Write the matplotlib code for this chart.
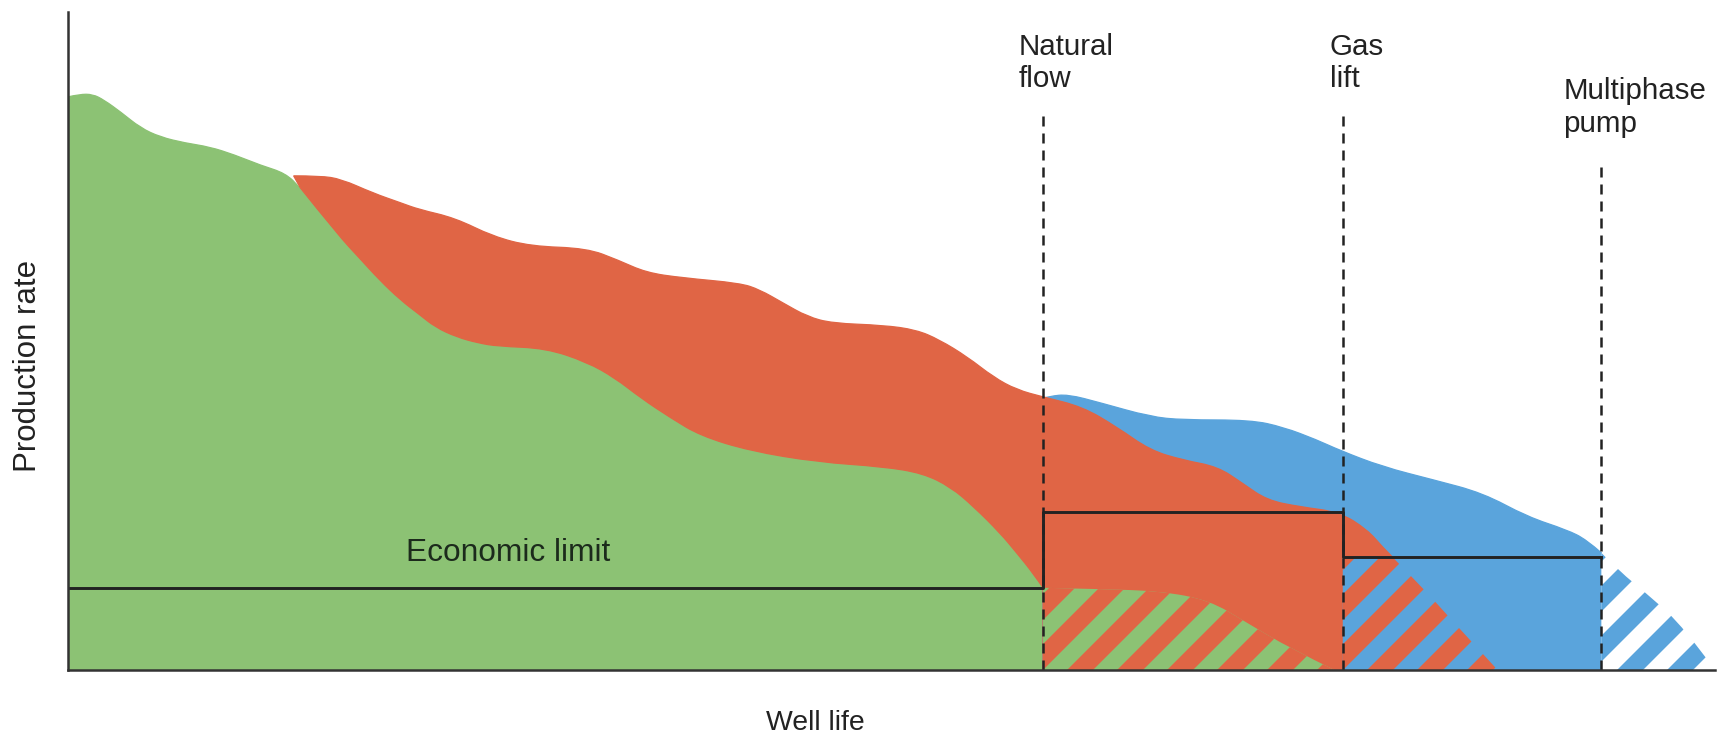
import numpy as np
import matplotlib.pyplot as plt
from matplotlib.path import Path
from matplotlib.patches import PathPatch

# Schematic production profile
# (well life 0-100 along x, production rate 0-100 along y)

# natural flow: green curve down to the economic limit
natural_x = [0.0, 0.7, 1.5, 2.2, 3.2, 4.4, 5.6, 7.1, 8.6, 10.1, 11.7, 13.2, 14.1,
             16.4, 17.7, 18.9, 20.2, 21.3, 22.3, 23.6, 24.9, 26.1, 29.0, 31.5,
             33.2, 34.8, 36.6, 38.4, 41.4, 45.5, 49.5, 51.9, 53.6, 55.0, 56.6,
             57.6, 58.6, 59.2]
natural_y = [87.1, 87.5, 87.5, 86.6, 84.8, 82.4, 81.0, 80.1, 79.5, 78.3, 76.7, 75.5, 73.3,
             66.1, 62.6, 59.3, 56.2, 54.1, 52.1, 50.6, 49.7, 49.2, 48.9, 46.8,
             44.4, 41.3, 38.3, 35.6, 33.3, 31.6, 30.9, 29.9, 27.8, 24.8, 20.8,
             17.8, 14.7, 12.5]
# natural flow below the economic limit
natural_tail_x = [59.2, 62.7, 66.3, 69.3, 71.5, 74.2, 76.9]
natural_tail_y = [12.5, 12.3, 12.0, 10.6, 7.3, 3.3, 0.0]

# gas lift: red curve
gaslift_x = [13.7, 15.3, 16.6, 18.5, 20.2, 21.3, 23.5, 25.8, 28.1, 31.5, 33.4, 35.1,
             37.3, 40.8, 42.0, 43.4, 44.9, 46.4, 49.5, 51.5, 52.9, 54.6, 56.2, 57.6,
             59.2, 61.6, 63.7, 65.7, 67.7, 69.8, 71.3, 72.8, 74.8, 77.2, 78.9, 79.8,
             80.4]
gaslift_y = [75.1, 75.1, 74.6, 72.5, 71.0, 70.0, 68.7, 65.9, 64.4, 64.1, 62.3, 60.4,
             59.6, 58.8, 57.8, 55.8, 53.7, 52.7, 52.4, 51.7, 50.2, 47.6, 44.5, 42.6,
             41.5, 40.0, 36.9, 33.4, 31.9, 30.9, 28.4, 25.8, 24.8, 24.0, 21.3, 18.7,
             17.2]
gaslift_tail_x = [80.4, 82.1, 83.9, 85.7, 86.8]
gaslift_tail_y = [17.2, 12.9, 7.9, 3.0, 0.0]

# multiphase pump: blue curve
pump_x = [59.2, 59.6, 60.7, 62.7, 65.7, 67.7, 71.8, 73.8, 75.8, 77.2, 79.8, 82.9,
          85.9, 88.6, 91.0, 92.2, 93.1]
pump_y = [41.3, 41.6, 41.9, 40.6, 38.5, 38.0, 38.0, 36.9, 35.0, 33.4, 30.9, 28.9,
          26.9, 23.3, 21.3, 19.8, 17.8]
pump_tail_x = [93.1, 94.1, 96.1, 98.1, 100.0]
pump_tail_y = [17.8, 15.2, 11.1, 6.5, 0.0]

# where each lift method takes over, and its economic limit
switch_x = [59.2, 77.4, 93.1]
limit_y = [12.5, 24.0, 17.2]
switch_labels = ["Natural\nflow", "Gas\nlift", "Multiphase\npump"]

green = "#8cc274"
red = "#e06545"
blue = "#5aa4dc"
ink = "#222222"

plt.rcParams["hatch.linewidth"] = 4.4
label_font = ["Liberation Sans", "DejaVu Sans"]

fig = plt.figure(figsize=(5.75, 2.48), dpi=300)
ax = fig.add_axes([68 / 1725, 74 / 744, 1647 / 1725, 658 / 744])


def area(parts, **kw):
    # parts: ("curve"|"line", xs, ys); curves are drawn as smooth quadratic paths
    verts, codes = [], []
    for kind, xs, ys in parts:
        pts = np.column_stack([xs, ys])
        verts.append(pts[0])
        codes.append(Path.LINETO if verts[:-1] else Path.MOVETO)
        if kind == "line":
            for p in pts[1:]:
                verts.append(p)
                codes.append(Path.LINETO)
            continue
        m = len(pts) - 1
        for i in range(1, m):
            end = (pts[i] + pts[i + 1]) / 2 if i < m - 1 else pts[m]
            verts.extend([pts[i], end])
            codes.extend([Path.CURVE3, Path.CURVE3])
        if m == 1:
            verts.append(pts[1])
            codes.append(Path.LINETO)
    verts.append(verts[0])
    codes.append(Path.CLOSEPOLY)
    ax.add_patch(PathPatch(Path(verts, codes), **kw))


nx = np.array(natural_x)
ny = np.array(natural_y)
under_red = nx >= 14.0

# solid areas above the economic limits
area([("curve", natural_x, natural_y), ("line", [switch_x[0], 0], [0, 0])],
     facecolor=green, edgecolor=green, linewidth=0.3)
area([("curve", pump_x, pump_y), ("line", [switch_x[2], switch_x[0]], [0, 0])],
     facecolor=blue, edgecolor=blue, linewidth=0.3)
area([("curve", gaslift_x, gaslift_y),
      ("line", [switch_x[1], switch_x[1], switch_x[0]], [limit_y[2], 0, 0]),
      ("curve", nx[under_red][::-1], ny[under_red][::-1])],
     facecolor=red, edgecolor=red, linewidth=0.3)

# hatched areas: production left below each economic limit
area([("curve", natural_tail_x, natural_tail_y), ("line", [switch_x[0]], [0])],
     facecolor=green, edgecolor=red, hatch="//", linewidth=0)
area([("line", [switch_x[1]], [limit_y[2]]),
      ("curve", gaslift_tail_x, gaslift_tail_y), ("line", [switch_x[1]], [0])],
     facecolor=blue, edgecolor=red, hatch="//", linewidth=0)
area([("curve", pump_tail_x, pump_tail_y), ("line", [switch_x[2]], [0])],
     facecolor="white", edgecolor=blue, hatch="//", linewidth=0)

# economic limit as a step line
ax.step([0] + switch_x, limit_y + [limit_y[-1]], where="post", color=ink, lw=0.7)

# dashed markers for each lift method
dash_top = [85.0, 85.0, 76.7]
ax.vlines(switch_x, 0, dash_top, colors=ink, linewidth=0.6, linestyles=(0, (4, 2.8)))

label_pos = [(57.7, 96.8), (76.6, 96.8), (90.8, 90.1)]
for (tx, ty), txt in zip(label_pos, switch_labels):
    ax.text(tx, ty, txt, ha="left", va="top", fontsize=7.1, color=ink,
            family=label_font, linespacing=1.2)

ax.text(26.7, 17.8, "Economic limit", ha="center", va="center", fontsize=7.6,
        color="#1c2a1c", family=label_font)

ax.set_xlim(0, 100)
ax.set_ylim(0, 100)
for side in ["top", "right"]:
    ax.spines[side].set_visible(False)
for side in ["left", "bottom"]:
    ax.spines[side].set_color("#333333")
    ax.spines[side].set_linewidth(0.6)
ax.set_xticks([])
ax.set_yticks([])

fig.text(815 / 1725, 1 - 723 / 744, "Well life", ha="center", va="center",
         fontsize=6.8, color=ink, family=label_font)
fig.text(28.5 / 1725, 1 - 366 / 744, "Production rate", ha="center", va="center",
         rotation=90, fontsize=7.5, color=ink, family=label_font)

fig.savefig("out.png", dpi=300)
